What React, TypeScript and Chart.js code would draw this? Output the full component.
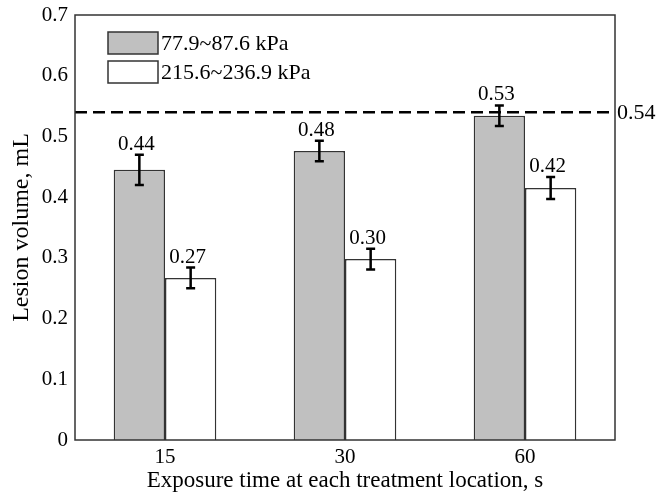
import React, { useEffect, useRef } from "react";
import { Chart, registerables } from "chart.js";

Chart.register(...registerables);

const categories = ["15", "30", "60"];
const seriesNames = ["77.9~87.6 kPa", "215.6~236.9 kPa"];
const lowPressure = [0.445, 0.476, 0.534];
const lowPressureErr = [0.025, 0.017, 0.017];
const highPressure = [0.267, 0.298, 0.415];
const highPressureErr = [0.017, 0.017, 0.018];
const lowLabels = ["0.44", "0.48", "0.53"];
const highLabels = ["0.27", "0.30", "0.42"];
const refValue = 0.54;
const refLabel = "0.54";
const yMin = 0;
const yMax = 0.7;
const yStep = 0.1;
const xTitle = "Exposure time at each treatment location, s";
const yTitle = "Lesion volume, mL";

const FONT = "'Liberation Serif', 'Times New Roman', serif";
const GRAY = "#c0c0c0";
const EDGE = "#333333";

const overlayPlugin = {
  id: "overlay",
  afterDatasetsDraw(chart: any) {
    const { ctx, chartArea, scales } = chart;
    const y = scales.y;
    ctx.save();

    // reference dashed line
    const yr = y.getPixelForValue(refValue);
    ctx.strokeStyle = "#000";
    ctx.lineWidth = 2.5;
    ctx.setLineDash([12, 6]);
    ctx.beginPath();
    ctx.moveTo(chartArea.left, yr);
    ctx.lineTo(chartArea.right, yr);
    ctx.stroke();
    ctx.setLineDash([]);
    ctx.fillStyle = "#000";
    ctx.font = `22px ${FONT}`;
    ctx.textAlign = "left";
    ctx.textBaseline = "middle";
    ctx.fillText(refLabel, chartArea.right + 2, yr + 1);

    // error bars and value labels
    const errs = [lowPressureErr, highPressureErr];
    const vals = [lowPressure, highPressure];
    const labels = [lowLabels, highLabels];
    for (let d = 0; d < 2; d++) {
      const meta = chart.getDatasetMeta(d);
      meta.data.forEach((bar: any, i: number) => {
        const x = bar.x;
        const top = y.getPixelForValue(vals[d][i] + errs[d][i]);
        const bot = y.getPixelForValue(vals[d][i] - errs[d][i]);
        ctx.strokeStyle = "#000";
        ctx.lineWidth = 2.5;
        ctx.beginPath();
        ctx.moveTo(x, top);
        ctx.lineTo(x, bot);
        ctx.moveTo(x - 4.5, top);
        ctx.lineTo(x + 4.5, top);
        ctx.moveTo(x - 4.5, bot);
        ctx.lineTo(x + 4.5, bot);
        ctx.stroke();
        ctx.fillStyle = "#000";
        ctx.font = `21px ${FONT}`;
        ctx.textAlign = "center";
        ctx.textBaseline = "alphabetic";
        ctx.fillText(labels[d][i], x - 3, top - 5);
      });
    }

    // frame
    ctx.strokeStyle = EDGE;
    ctx.lineWidth = 1.5;
    ctx.strokeRect(chartArea.left, chartArea.top, chartArea.right - chartArea.left, chartArea.bottom - chartArea.top);

    // legend
    const lx = chartArea.left + 33;
    const ly = chartArea.top + 17;
    const fills = [GRAY, "#ffffff"];
    for (let k = 0; k < 2; k++) {
      const by = ly + k * 29;
      ctx.fillStyle = fills[k];
      ctx.fillRect(lx, by, 50, 22);
      ctx.strokeStyle = EDGE;
      ctx.lineWidth = 1.5;
      ctx.strokeRect(lx, by, 50, 22);
      ctx.fillStyle = "#000";
      ctx.font = `22px ${FONT}`;
      ctx.textAlign = "left";
      ctx.textBaseline = "middle";
      ctx.fillText(seriesNames[k], lx + 53, by + 12);
    }
    ctx.restore();
  },
};

export default function App() {
  const ref = useRef<HTMLCanvasElement | null>(null);
  useEffect(() => {
    if (!ref.current) return;
    const chart = new Chart(ref.current, {
      type: "bar",
      data: {
        labels: categories,
        datasets: [
          {
            label: seriesNames[0],
            data: lowPressure,
            backgroundColor: GRAY,
            borderColor: EDGE,
            borderWidth: 1.5,
          },
          {
            label: seriesNames[1],
            data: highPressure,
            backgroundColor: "#ffffff",
            borderColor: EDGE,
            borderWidth: 1.5,
          },
        ],
      },
      options: {
        animation: false,
        responsive: false,
        maintainAspectRatio: false,
        layout: { padding: { left: 7, right: 54, top: 15, bottom: 0 } },
        datasets: { bar: { categoryPercentage: 0.57, barPercentage: 1.0 } },
        plugins: { legend: { display: false }, tooltip: { enabled: false } },
        scales: {
          x: {
            grid: { display: false, drawTicks: false },
            border: { display: false },
            ticks: { color: "#000", font: { family: FONT, size: 21 }, padding: 5 },
            title: { display: true, text: xTitle, color: "#000", font: { family: FONT, size: 23 }, padding: { top: 0, bottom: 0 } },
            afterFit(scale: any) {
              scale.height = 55;
              scale.paddingLeft = 0;
              scale.paddingRight = 0;
            },
          },
          y: {
            min: yMin,
            max: yMax,
            grid: { display: false, drawTicks: false },
            border: { display: false },
            ticks: {
              stepSize: yStep,
              color: "#000",
              font: { family: FONT, size: 21 },
              padding: 7,
              callback: (v: any) => (Number(v) === 0 ? "0" : Number(v).toFixed(1)),
            },
            title: { display: true, text: yTitle, color: "#000", font: { family: FONT, size: 24 }, padding: { top: 0, bottom: 0 } },
            afterFit(scale: any) {
              scale.width = 68;
              scale.paddingTop = 0;
              scale.paddingBottom = 0;
            },
          },
        },
      },
      plugins: [overlayPlugin],
    });
    return () => chart.destroy();
  }, []);
  return (
    <div style={{ position: "fixed", left: 0, top: 0, width: 669, height: 495 }}>
      <canvas ref={ref} width={669} height={495} style={{ width: 669, height: 495, display: "block" }} />
    </div>
  );
}
